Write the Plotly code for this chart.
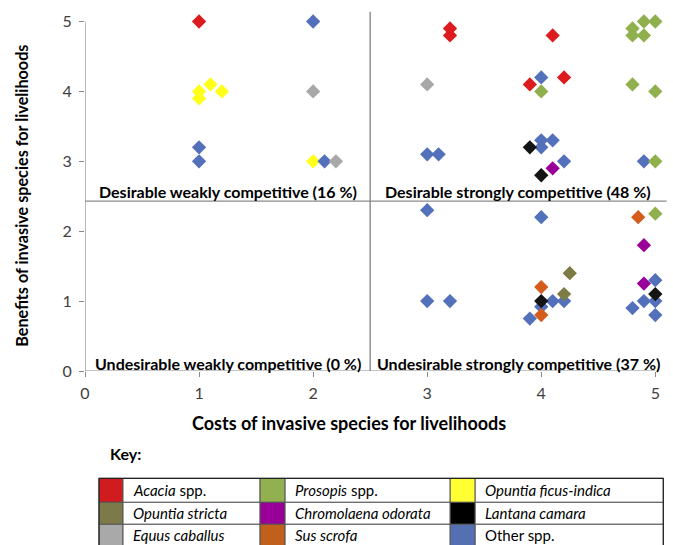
import plotly.graph_objects as go

# ---------------- data ----------------
species = ["Acacia", "Prosopis", "Opuntia ficus-indica", "Opuntia stricta",
           "Chromolaena odorata", "Lantana camara", "Equus caballus",
           "Sus scrofa", "Other spp."]
labels = ["<i>Acacia</i> spp.", "<i>Prosopis</i> spp.", "<i>Opuntia ficus-indica</i>",
          "<i>Opuntia stricta</i>", "<i>Chromolaena odorata</i>", "<i>Lantana camara</i>",
          "<i>Equus caballus</i>", "<i>Sus scrofa</i>", "Other spp."]

acacia_x = [1, 3.2, 3.2, 4.1, 3.9, 4.2]
acacia_y = [5, 4.9, 4.8, 4.8, 4.1, 4.2]
prosopis_x = [4.8, 4.9, 5.0, 4.8, 4.9, 4.0, 4.8, 5.0, 5.0, 5.0]
prosopis_y = [4.9, 5.0, 5.0, 4.8, 4.8, 4.0, 4.1, 4.0, 3.0, 2.25]
ficus_x = [1, 1.1, 1.2, 1, 2]
ficus_y = [4, 4.1, 4, 3.9, 3]
stricta_x = [4.25, 4.2]
stricta_y = [1.4, 1.1]
chromo_x = [4.1, 4.9, 4.9]
chromo_y = [2.9, 1.8, 1.25]
lantana_x = [3.9, 4.0, 4.0, 5.0]
lantana_y = [3.2, 2.8, 1.0, 1.1]
equus_x = [2, 2.2, 3]
equus_y = [4, 3, 4.1]
sus_x = [4.85, 4.0, 4.0]
sus_y = [2.2, 1.2, 0.8]
other_x = [2, 1, 1, 2.1, 4, 3, 3.1, 4, 4, 4.1, 4.2, 4.9, 3, 4, 3, 3.2, 4.1, 4.2,
           4, 3.9, 5, 4.9, 5, 4.8, 5]
other_y = [5, 3.2, 3, 3, 4.2, 3.1, 3.1, 3.3, 3.2, 3.3, 3.0, 3.0, 2.3, 2.2, 1, 1, 1, 1,
           0.92, 0.75, 1.3, 1.0, 1.0, 0.9, 0.8]

x_ticks = [0, 1, 2, 3, 4, 5]
y_ticks = [0, 1, 2, 3, 4, 5]
x_split = 2.5
y_split = 2.43
quadrant_labels = ["Desirable weakly competitive (16 %)",
                   "Desirable strongly competitive (48 %)",
                   "Undesirable weakly competitive (0 %)",
                   "Undesirable strongly competitive (37 %)"]

colors = {
    "Acacia": "#dc1c1f",
    "Prosopis": "#8fb04c",
    "Opuntia ficus-indica": "#ffff1a",
    "Opuntia stricta": "#7d7b45",
    "Chromolaena odorata": "#990099",
    "Lantana camara": "#141414",
    "Equus caballus": "#a8a8a8",
    "Sus scrofa": "#d45d1c",
    "Other spp.": "#5370ba",
}
legend_colors = {
    "Acacia": "#d01c1f",
    "Prosopis": "#92b050",
    "Opuntia ficus-indica": "#ffff33",
    "Opuntia stricta": "#7b7a48",
    "Chromolaena odorata": "#990099",
    "Lantana camara": "#000000",
    "Equus caballus": "#a9a9a9",
    "Sus scrofa": "#c0601b",
    "Other spp.": "#5470b3",
}

series = {
    "Acacia": (acacia_x, acacia_y),
    "Opuntia ficus-indica": (ficus_x, ficus_y),
    "Chromolaena odorata": (chromo_x, chromo_y),
    "Other spp.": (other_x, other_y),
    "Prosopis": (prosopis_x, prosopis_y),
    "Opuntia stricta": (stricta_x, stricta_y),
    "Equus caballus": (equus_x, equus_y),
    "Sus scrofa": (sus_x, sus_y),
    "Lantana camara": (lantana_x, lantana_y),
}

# ---------------- layout geometry ----------------
W, H = 673, 545
ML, MR, MT, MB = 85, 4.3, 11, 173.5
PW = W - ML - MR
PH = H - MT - MB
FONT = "Lato"
AXC = "#8a8a8a"


def px(x):
    return (x - ML) / PW


def py(y):
    return (H - MB - y) / PH


fig = go.Figure()
for name, (xs, ys) in series.items():
    fig.add_trace(go.Scatter(
        x=xs, y=ys, mode="markers", name=name, showlegend=False, cliponaxis=False,
        marker=dict(symbol="diamond", size=11, color=colors[name],
                    line=dict(width=0)),
    ))

shapes = []
# axis lines and quadrant dividers
shapes.append(dict(type="line", xref="x", yref="y", x0=0, x1=5, y0=0, y1=0,
                   line=dict(color=AXC, width=1.2)))
shapes.append(dict(type="line", xref="x", yref="y", x0=0, x1=0, y0=0, y1=5,
                   line=dict(color=AXC, width=1.2)))
shapes.append(dict(type="line", xref="x", yref="y", x0=x_split, x1=x_split, y0=0, y1=5.14,
                   line=dict(color=AXC, width=1.4)))
shapes.append(dict(type="line", xref="x", yref="y", x0=0, x1=5.1, y0=y_split, y1=y_split,
                   line=dict(color=AXC, width=1.4)))

annotations = []
qpos = [(1.25, y_split, -2), (3.8, y_split, -2), (1.25, 0, -4), (3.8, 0, -4)]
for txt, (qx, qy, ys) in zip(quadrant_labels, qpos):
    annotations.append(dict(x=qx, y=qy, xref="x", yref="y", text="<b>%s</b>" % txt,
                            showarrow=False, yanchor="bottom", xanchor="center", yshift=ys,
                            font=dict(family=FONT, size=16, color="#000000")))

# axis titles
annotations.append(dict(x=px(349), y=py(424), xref="paper", yref="paper",
                        text="<b>Costs of invasive species for livelihoods</b>",
                        xanchor="center", yanchor="middle",
                        showarrow=False, font=dict(family=FONT, size=18, color="#000")))
annotations.append(dict(x=px(22), y=py(196), xref="paper", yref="paper",
                        text="<b>Benefits of invasive species for livelihoods</b>",
                        xanchor="center", yanchor="middle",
                        textangle=-90, showarrow=False,
                        font=dict(family=FONT, size=16.2, color="#000")))
annotations.append(dict(x=px(108), y=py(454), xref="paper", yref="paper",
                        text="<b>Key:</b>", xanchor="left", yanchor="middle", showarrow=False,
                        font=dict(family=FONT, size=16, color="#000")))

# legend table
col_edges = [99, 123, 260, 285, 450, 475, 663]
row_edges = [479, 503, 525, 547]
order = ["Acacia", "Prosopis", "Opuntia ficus-indica",
         "Opuntia stricta", "Chromolaena odorata", "Lantana camara",
         "Equus caballus", "Sus scrofa", "Other spp."]
for i, name in enumerate(order):
    r, c = divmod(i, 3)
    x0, x1, x2 = col_edges[2 * c], col_edges[2 * c + 1], col_edges[2 * c + 2]
    y0, y1 = row_edges[r], row_edges[r + 1]
    shapes.append(dict(type="rect", xref="paper", yref="paper",
                       x0=px(x0), x1=px(x1), y0=py(y1), y1=py(y0),
                       fillcolor=legend_colors[name], line=dict(color="#555", width=1)))
    shapes.append(dict(type="rect", xref="paper", yref="paper",
                       x0=px(x1), x1=px(x2), y0=py(y1), y1=py(y0),
                       fillcolor="white", line=dict(color="#555", width=1)))
    annotations.append(dict(x=px(x1 + 8), y=py((y0 + y1) / 2), xref="paper", yref="paper",
                            text=labels[species.index(name)], xanchor="left", yanchor="middle",
                            showarrow=False, font=dict(family=FONT, size=15, color="#000")))
shapes.append(dict(type="rect", xref="paper", yref="paper",
                   x0=px(col_edges[0]), x1=px(col_edges[-1]),
                   y0=py(row_edges[-1]), y1=py(row_edges[0]),
                   line=dict(color="#222", width=1.2)))

fig.update_layout(
    width=W, height=H,
    margin=dict(l=ML, r=MR, t=MT, b=MB, pad=0),
    paper_bgcolor="white", plot_bgcolor="white",
    shapes=shapes, annotations=annotations,
    font=dict(family=FONT, color="#404040"),
    xaxis=dict(range=[0, 5.12], tickvals=x_ticks, ticks="outside", ticklen=5,
               tickcolor=AXC, showgrid=False, zeroline=False, showline=False,
               ticklabelstandoff=3,
               tickfont=dict(family=FONT, size=16, color="#404040")),
    yaxis=dict(range=[0, 5.15], tickvals=y_ticks, ticks="outside", ticklen=5,
               tickcolor=AXC, showgrid=False, zeroline=False, showline=False,
               ticklabelstandoff=4,
               tickfont=dict(family=FONT, size=16, color="#404040")),
)

fig.write_html("out.html", config={"displayModeBar": False},
               post_script="document.body.style.margin='0';")
